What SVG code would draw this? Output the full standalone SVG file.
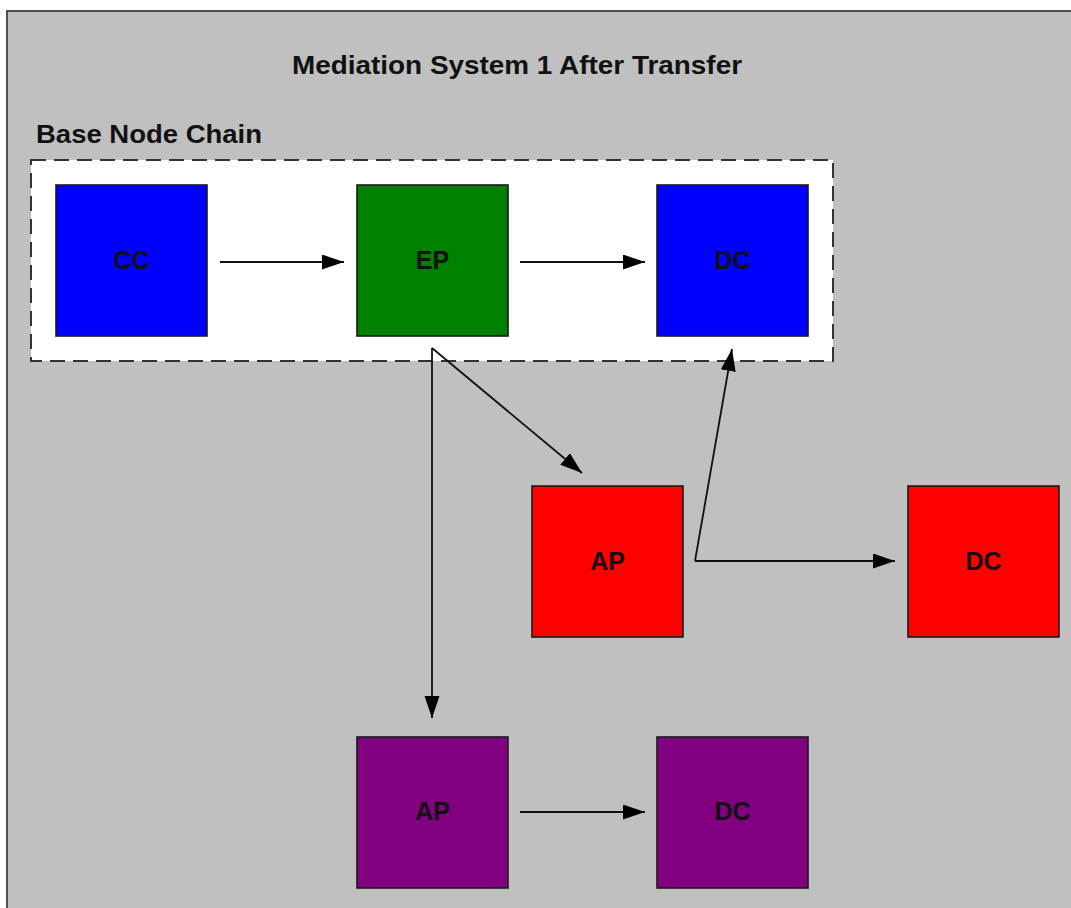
<svg xmlns="http://www.w3.org/2000/svg" width="1071" height="908" viewBox="0 0 1071 908">
  <style>
    .title { font-family: "Liberation Sans", Arial, sans-serif; font-weight: bold; font-size: 25px; fill: #111; }
    .lbl { font-family: "Liberation Sans", Arial, sans-serif; font-weight: bold; font-size: 25px; fill: #111; text-anchor: middle; }
    .node { stroke: #1a1a1a; stroke-width: 1.6; }
    .conn { stroke: #111; stroke-width: 1.8; fill: none; marker-end: url(#arr); }
  </style>
  <defs>
    <marker id="arr" markerUnits="userSpaceOnUse" markerWidth="24" markerHeight="16" refX="22" refY="7.5" orient="auto">
      <path d="M0,0 L22,7.5 L0,15 Z" fill="#000"/>
    </marker>
  </defs>
  <rect x="0" y="0" width="1071" height="908" fill="#ffffff"/>
  <g id="frame">
    <rect x="7" y="11" width="1080" height="910" fill="#c0c0c0" stroke="#505050" stroke-width="2"/>
    <text class="title" x="292" y="74" textLength="450" lengthAdjust="spacingAndGlyphs">Mediation System 1 After Transfer</text>
  </g>
  <g id="base-node-chain">
    <rect x="31" y="160" width="802" height="201" fill="#ffffff" stroke="#333" stroke-width="2" stroke-dasharray="15,8"/>
    <text class="title" x="36" y="143" textLength="226" lengthAdjust="spacingAndGlyphs">Base Node Chain</text>
  </g>
  <g id="cc">
    <rect class="node" x="56" y="185" width="151" height="151" fill="#0000ff"/>
    <text class="lbl" x="131.5" y="269">CC</text>
  </g>
  <g id="ep">
    <rect class="node" x="357" y="185" width="151" height="151" fill="#008000"/>
    <text class="lbl" x="432.5" y="269">EP</text>
  </g>
  <g id="dc-blue">
    <rect class="node" x="657" y="185" width="151" height="151" fill="#0000ff"/>
    <text class="lbl" x="732.5" y="269">DC</text>
  </g>
  <g id="ap-red">
    <rect class="node" x="532" y="486" width="151" height="151" fill="#ff0000"/>
    <text class="lbl" x="607.5" y="570">AP</text>
  </g>
  <g id="dc-red">
    <rect class="node" x="908" y="486" width="151" height="151" fill="#ff0000"/>
    <text class="lbl" x="983.5" y="570">DC</text>
  </g>
  <g id="ap-purple">
    <rect class="node" x="357" y="737" width="151" height="151" fill="#800080"/>
    <text class="lbl" x="432.5" y="820">AP</text>
  </g>
  <g id="dc-purple">
    <rect class="node" x="657" y="737" width="151" height="151" fill="#800080"/>
    <text class="lbl" x="732.5" y="820">DC</text>
  </g>
  <g id="connectors">
    <path class="conn" d="M220,262 L344,262"/>
    <path class="conn" d="M520,262 L645,262"/>
    <path class="conn" d="M520,812 L645,812"/>
    <path class="conn" d="M432,348 L432,718"/>
    <path class="conn" d="M432,348 L582,473"/>
    <path class="conn" d="M695,561 L732,349"/>
    <path class="conn" d="M695,561 L895,561"/>
  </g>
</svg>
